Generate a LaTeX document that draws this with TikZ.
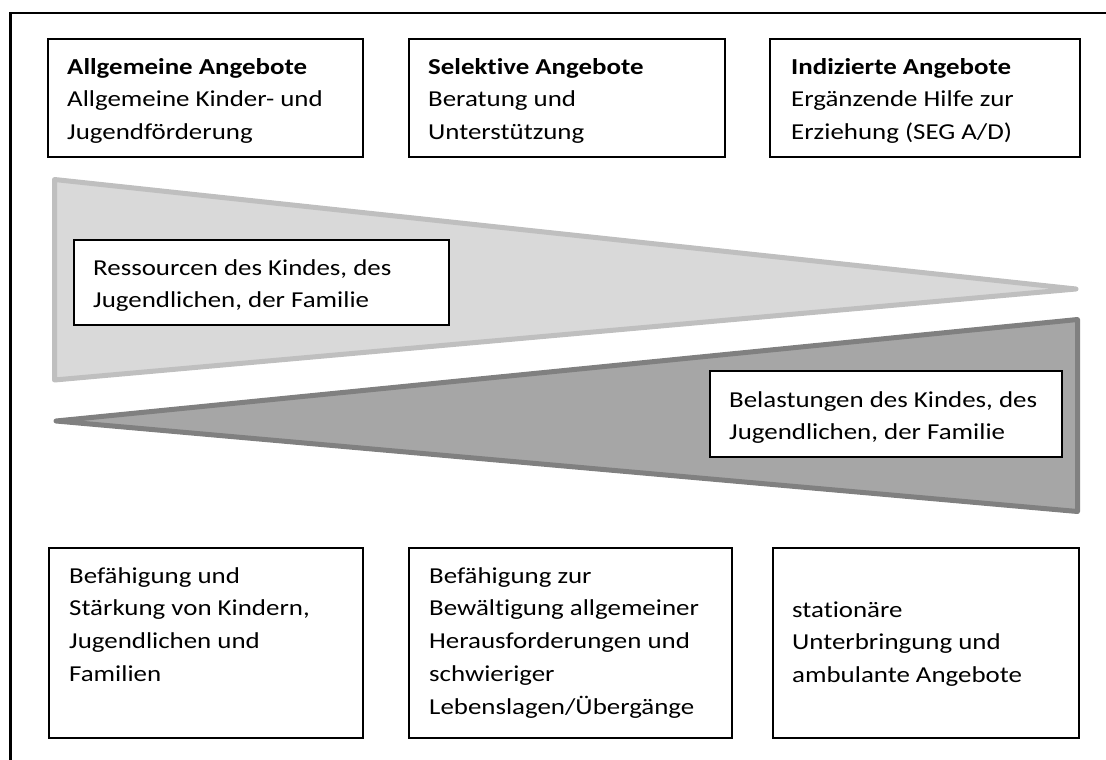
\documentclass[tikz,border=0pt]{standalone}
\usepackage{fontspec}
\setmainfont{Carlito}[FakeStretch=1.18, Ligatures=NoCommon]
\definecolor{lightfill}{HTML}{D9D9D9}
\definecolor{lightedge}{HTML}{BFBFBF}
\definecolor{darkfill}{HTML}{A6A6A6}
\definecolor{darkedge}{HTML}{808080}
\newcommand{\fst}{\rule{0pt}{24pt}}
\begin{document}
\begin{tikzpicture}[x=1pt,y=-1pt,
  box/.style={draw=black, line width=2pt, fill=white, inner sep=0pt, anchor=north west},
  txt/.style={anchor=north west, inner sep=0pt, align=left, font=\fontsize{22.8}{32.7}\selectfont, text=black},
  lighttri/.style={fill=lightfill, draw=lightedge, line width=5pt, line join=round},
  darktri/.style={fill=darkfill, draw=darkedge, line width=5pt, line join=round},
  frameline/.style={line width=2.5pt, draw=black}]

\useasboundingbox (0,0) rectangle (1106,760);

% frame
\coordinate (fb) at (10.5,760);
\coordinate (fc) at (10.5,13);
\coordinate (fr) at (1106,13);
\draw[frameline] (fb) -- (fc) -- (fr);

% wedges
\coordinate (la) at (54.5,179.5);
\coordinate (lb) at (54.5,380);
\coordinate (lt) at (1076,289);
\draw[lighttri] (la) -- (lt) -- (lb) -- cycle;

\coordinate (dt) at (56,421);
\coordinate (da) at (1077.5,319.5);
\coordinate (db) at (1077.5,511.5);
\draw[darktri] (dt) -- (da) -- (db) -- cycle;

% top boxes
\node[box, minimum width=315, minimum height=118] (t1) at (47,38) {};
\node[box, minimum width=316, minimum height=118] (t2) at (408,38) {};
\node[box, minimum width=310, minimum height=118] (t3) at (769,38) {};
\node[txt] (t1text) at (67,50) {\fst\textbf{Allgemeine Angebote}\\Allgemeine Kinder- und\\Jugendförderung};
\node[txt] (t2text) at (428,50) {\fst\textbf{Selektive Angebote}\\Beratung und\\Unterstützung};
\node[txt] (t3text) at (791,50) {\fst\textbf{Indizierte Angebote}\\Ergänzende Hilfe zur\\Erziehung (SEG A/D)};

% middle boxes
\node[box, minimum width=375, minimum height=85] (r) at (73,239) {};
\node[txt] (rtext) at (93,251) {\fst Ressourcen des Kindes, des\\Jugendlichen, der Familie};
\node[box, minimum width=352, minimum height=86] (b) at (709,370) {};
\node[txt] (btext) at (729,383) {\fst Belastungen des Kindes, des\\Jugendlichen, der Familie};

% bottom boxes
\node[box, minimum width=314, minimum height=190] (u1) at (48,547) {};
\node[box, minimum width=323, minimum height=190] (u2) at (408,547) {};
\node[box, minimum width=306, minimum height=190] (u3) at (772,547) {};
\node[txt] (u1text) at (69,559) {\fst Befähigung und\\Stärkung von Kindern,\\Jugendlichen und\\Familien};
\node[txt] (u2text) at (429,559) {\fst Befähigung zur\\Bewältigung allgemeiner\\Herausforderungen und\\schwieriger\\Lebenslagen/Übergänge};
\node[txt] (u3text) at (792,593) {\fst stationäre\\Unterbringung und\\ambulante Angebote};
\end{tikzpicture}
\end{document}
